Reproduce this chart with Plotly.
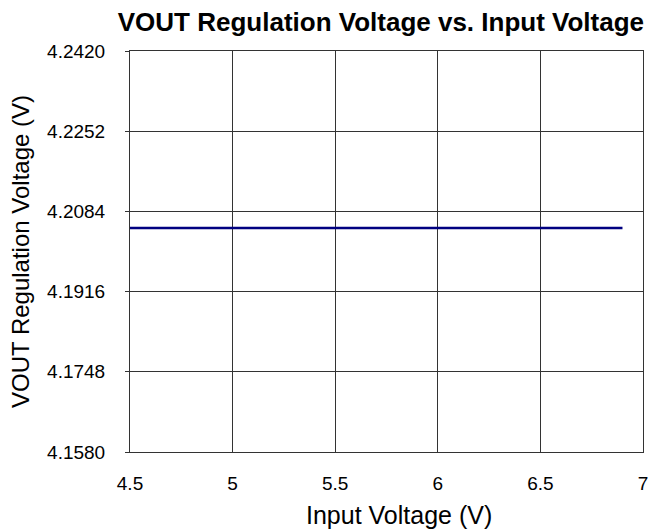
import plotly.graph_objects as go

input_voltage = [4.5, 4.7, 5.0, 5.5, 6.0, 6.5, 6.9]
vout_regulation = [4.2049, 4.2049, 4.2049, 4.2049, 4.2049, 4.2049, 4.2049]
y_ticks = [4.1580, 4.1748, 4.1916, 4.2084, 4.2252, 4.2420]
x_ticks = [4.5, 5, 5.5, 6, 6.5, 7]

fig = go.Figure()
fig.add_trace(go.Scatter(x=input_voltage, y=vout_regulation, mode="lines",
                         line=dict(color="#000080", width=2.5), showlegend=False))

font = "Liberation Sans, Arial, sans-serif"
fig.update_layout(
    width=659, height=532,
    margin=dict(l=130, r=16, t=51, b=80),
    paper_bgcolor="white", plot_bgcolor="white",
    font=dict(family=font, color="black"),
    title=dict(text="<b>VOUT Regulation Voltage vs. Input Voltage</b>",
               font=dict(size=26, family=font, color="black"),
               x=0.578, xanchor="center", y=0.958, yanchor="middle"),
)
fig.add_annotation(text="Input Voltage (V)", xref="paper", yref="paper",
                   x=0.524, y=-0.157, xanchor="center", yanchor="middle",
                   showarrow=False, font=dict(size=25, family=font, color="black"))
fig.update_xaxes(range=[4.5, 7], tickvals=x_ticks, ticktext=[str(v) for v in x_ticks],
                 showgrid=True, gridcolor="#333333", gridwidth=1,
                 showline=True, linecolor="#333333", linewidth=1, mirror=True,
                 ticks="", tickfont=dict(size=19), zeroline=False,
                 ticklabelstandoff=14)
fig.update_yaxes(range=[4.158, 4.242], tickvals=y_ticks,
                 ticktext=["%.4f" % v for v in y_ticks],
                 showgrid=True, gridcolor="#333333", gridwidth=1,
                 showline=True, linecolor="#333333", linewidth=1, mirror=True,
                 ticks="outside", ticklen=4, tickcolor="#333333",
                 tickfont=dict(size=19), zeroline=False,
                 ticklabelstandoff=16,
                 title=dict(text="VOUT Regulation Voltage (V)", font=dict(size=24), standoff=10))

fig.write_html("out.html", config={"displayModeBar": False},
               post_script="document.body.style.margin='0px';")
